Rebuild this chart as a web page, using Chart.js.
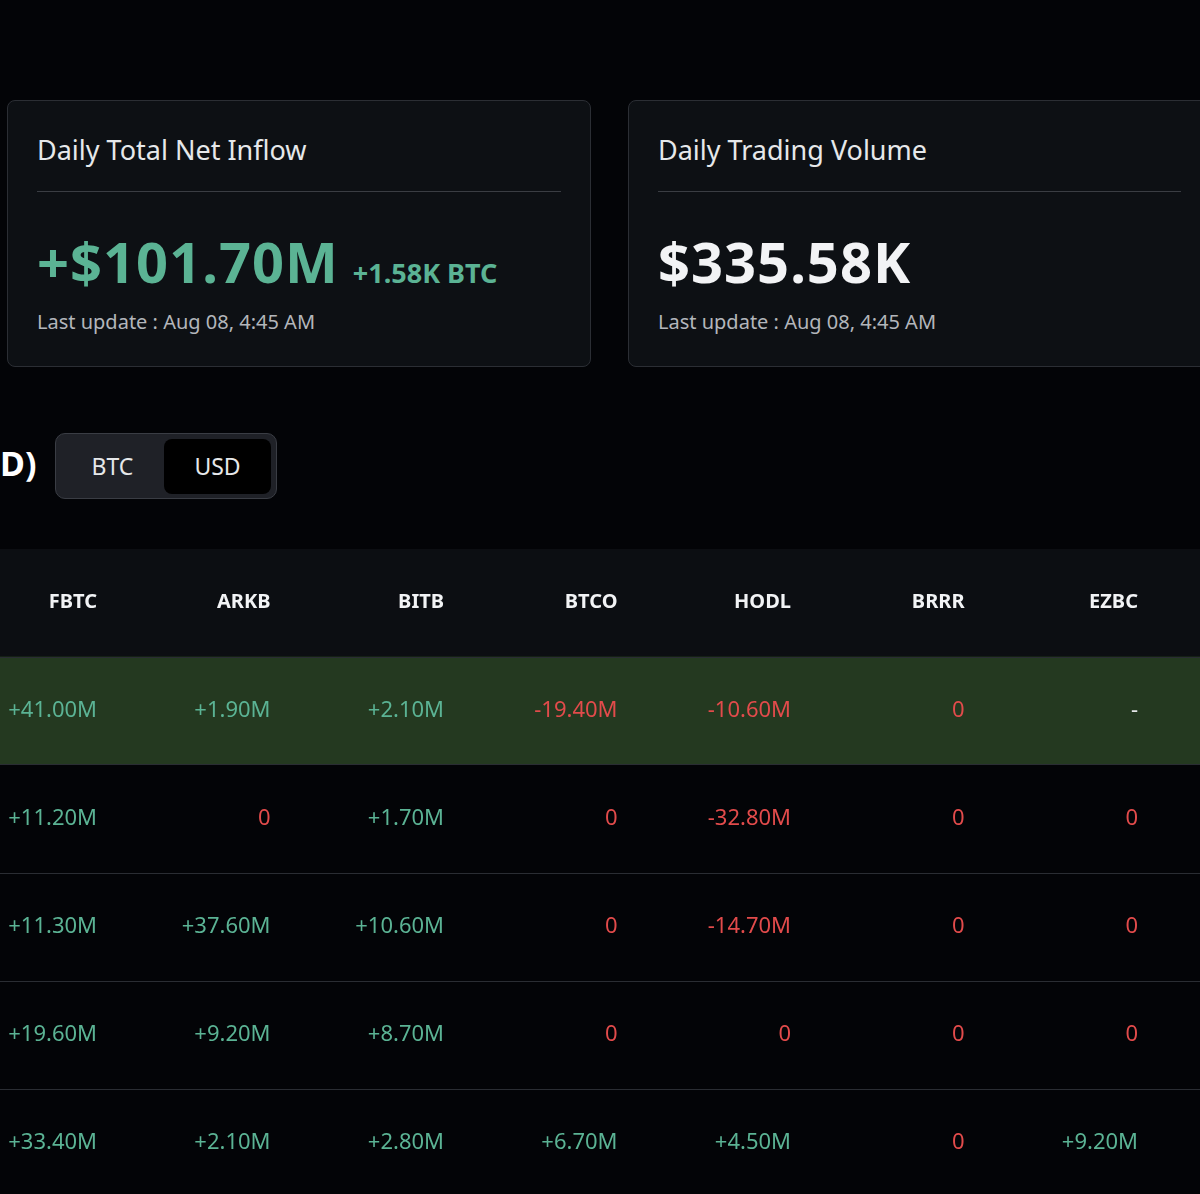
<!DOCTYPE html>
<html>
<head>
<meta charset="utf-8">
<script src="https://cdn.jsdelivr.net/npm/chart.js@4"></script>
<style>
  html, body { margin: 0; padding: 0; background: #030407; width: 1200px; height: 1194px; overflow: hidden; font-family: "Noto Sans", Roboto, sans-serif; }
  .card { position: absolute; top: 100px; height: 267px; background: #0d1014; border: 1px solid #2b2e34; border-radius: 8px; box-sizing: border-box; }
  .card h3 { position: absolute; left: 29px; top: 30px; margin: 0; font-size: 27px; font-weight: 400; color: #e6e8ea; }
  .card .line { position: absolute; left: 29px; right: 29px; top: 90px; border-top: 1px solid #3a3d43; }
  .card .big { position: absolute; left: 29px; top: 122px; font-size: 56px; font-weight: 700; letter-spacing: 1px; }
  .card .small { font-size: 27px; font-weight: 700; margin-left: 14px; letter-spacing: 0; }
  .card .upd { position: absolute; left: 29px; top: 207px; font-size: 20px; color: #b3b6bb; }
  .green { color: #5bb394; }
  #tail { position: absolute; left: 0; top: 440px; font-size: 34px; font-weight: 700; color: #fff; }
  #toggle { position: absolute; left: 55px; top: 433px; width: 222px; height: 66px; background: #1f2127; border: 1px solid #3a3d44; border-radius: 10px; box-sizing: border-box; }
  #toggle span { position: absolute; top: 5px; height: 55px; line-height: 55px; font-size: 23px; color: #e6e8ea; text-align: center; }
  #btc { left: 5px; width: 103px; }
  #usd { left: 108px; width: 107px; background: #000; border-radius: 8px; color: #fff; }
  #wrap { position: absolute; left: 0; top: 549px; width: 1200px; height: 645px; }
</style>
</head>
<body>
<div class="card" style="left:7px;width:584px">
  <h3>Daily Total Net Inflow</h3>
  <div class="line"></div>
  <div class="big green">+$101.70M<span class="small">+1.58K BTC</span></div>
  <div class="upd">Last update : Aug 08, 4:45 AM</div>
</div>
<div class="card" style="left:628px;width:600px">
  <h3>Daily Trading Volume</h3>
  <div class="line" style="right:46px"></div>
  <div class="big" style="color:#f2f3f5">$335.58K</div>
  <div class="upd">Last update : Aug 08, 4:45 AM</div>
</div>
<div id="tail">D)</div>
<div id="toggle"><span id="btc">BTC</span><span id="usd">USD</span></div>
<div id="wrap"><canvas id="table"></canvas></div>
<script>
const tickers = ['FBTC', 'ARKB', 'BITB', 'BTCO', 'HODL', 'BRRR', 'EZBC'];
const row1 = [41.00, 1.90, 2.10, -19.40, -10.60, 0, null];
const row2 = [11.20, 0, 1.70, 0, -32.80, 0, 0];
const row3 = [11.30, 37.60, 10.60, 0, -14.70, 0, 0];
const row4 = [19.60, 9.20, 8.70, 0, 0, 0, 0];
const row5 = [33.40, 2.10, 2.80, 6.70, 4.50, 0, 9.20];
const rows = [row1, row2, row3, row4, row5];

function fmt(v) {
    if (v === null) return '-';
    if (v === 0) return '0';
    return (v > 0 ? '+' : '') + v.toFixed(2) + 'M';
}

const tablePlugin = {
    id: 'tablePlugin',
    beforeDatasetsDraw(chart) {
        const { ctx, scales: { x, y }, chartArea } = chart;
        ctx.save();
        // header background
        let top = y.getPixelForValue(-0.5), bot = y.getPixelForValue(0.5);
        ctx.fillStyle = '#0c0e12';
        ctx.fillRect(chartArea.left, top, chartArea.width, bot - top);
        // highlighted first row
        ctx.fillStyle = '#243920';
        ctx.fillRect(chartArea.left, y.getPixelForValue(0.5), chartArea.width, y.getPixelForValue(1.5) - y.getPixelForValue(0.5));
        // separators
        ctx.strokeStyle = '#2a2d33';
        ctx.lineWidth = 1;
        for (let r = 0; r < rows.length; r++) {
            const py = Math.round(y.getPixelForValue(r + 0.5)) + 0.5;
            ctx.beginPath();
            ctx.moveTo(chartArea.left, py);
            ctx.lineTo(chartArea.right, py);
            ctx.stroke();
        }
        ctx.textAlign = 'right';
        ctx.textBaseline = 'middle';
        ctx.font = '700 20px "Noto Sans", Roboto, sans-serif';
        ctx.fillStyle = '#f2f3f5';
        tickers.forEach((t, i) => ctx.fillText(t, x.getPixelForValue(i), y.getPixelForValue(0)));
        ctx.font = '400 22px "Noto Sans", Roboto, sans-serif';
        rows.forEach((row, r) => {
            row.forEach((v, i) => {
                ctx.fillStyle = v === null ? '#e6e8ea' : (v > 0 ? '#5bb394' : '#e24b4b');
                ctx.fillText(fmt(v), x.getPixelForValue(i), y.getPixelForValue(r + 1));
            });
        });
        ctx.restore();
    }
};

const points = [];
rows.forEach((row, r) => row.forEach((v, i) => points.push({ x: i, y: r + 1 })));

new Chart(document.getElementById('table'), {
    type: 'scatter',
    data: { datasets: [{ data: points, pointRadius: 0 }] },
    options: {
        responsive: true,
        maintainAspectRatio: false,
        animation: false,
        layout: { padding: 0 },
        scales: {
            x: { type: 'linear', min: -97 / 173.5, max: (1200 - 97) / 173.5, display: false },
            y: { type: 'linear', reverse: true, min: -53.5 / 108, max: (645 - 53.5) / 108, display: false }
        },
        plugins: { legend: { display: false }, tooltip: { enabled: false } }
    },
    plugins: [tablePlugin]
});
</script>
</body>
</html>
